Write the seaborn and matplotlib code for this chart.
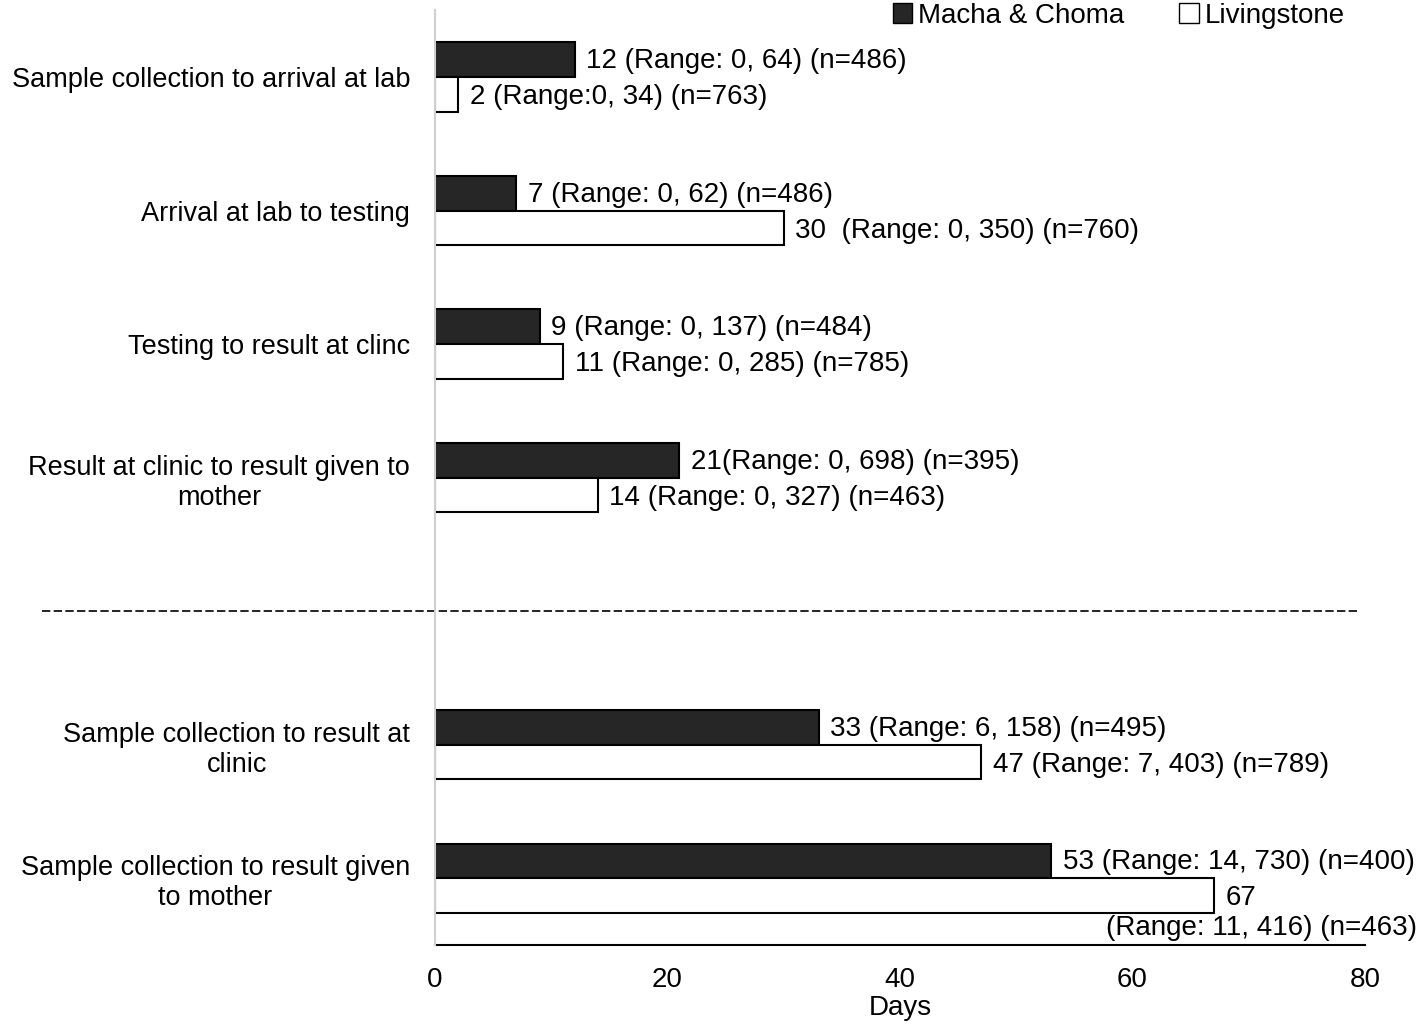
import matplotlib
matplotlib.use("Agg")
import matplotlib.pyplot as plt
import seaborn as sns
import pandas as pd
from matplotlib.patches import Patch

# datos
etapas = [
    "Sample collection to arrival at lab",
    "Arrival at lab to testing",
    "Testing to result at clinc",
    "Result at clinic to result given to\nmother",
    " ",
    "Sample collection to result at\nclinic",
    "Sample collection to result given\nto mother",
]
etapas_datos = [e for e in etapas if e.strip()]
grupos = ["Macha & Choma", "Livingstone"]

dias_macha = [12, 7, 9, 21, 33, 53]
dias_livingstone = [2, 30, 11, 14, 47, 67]

etiquetas_macha = [
    "12 (Range: 0, 64) (n=486)",
    "7 (Range: 0, 62) (n=486)",
    "9 (Range: 0, 137) (n=484)",
    "21(Range: 0, 698) (n=395)",
    "33 (Range: 6, 158) (n=495)",
    "53 (Range: 14, 730) (n=400)",
]
etiquetas_livingstone = [
    "2 (Range:0, 34) (n=763)",
    "30  (Range: 0, 350) (n=760)",
    "11 (Range: 0, 285) (n=785)",
    "14 (Range: 0, 327) (n=463)",
    "47 (Range: 7, 403) (n=789)",
    "67\n(Range: 11, 416) (n=463)",
]

df = pd.DataFrame({
    "etapa": etapas_datos * 2,
    "grupo": [grupos[0]] * 6 + [grupos[1]] * 6,
    "dias": dias_macha + dias_livingstone,
})

plt.rcParams["font.family"] = ["Liberation Sans", "DejaVu Sans"]
FS = 20

fig = plt.figure(figsize=(14.18, 10.25), dpi=100)
ax = fig.add_axes([0.3068, 0.078, 0.9626 - 0.3068, 0.990 - 0.078])

sns.barplot(
    data=df, y="etapa", x="dias", hue="grupo", order=etapas,
    hue_order=grupos, palette=["#262626", "white"], orient="h",
    width=0.52, edgecolor="black", linewidth=1.5, legend=False, ax=ax,
)

ax.set_xlim(0, 80)
ax.set_ylim(6.5, -0.5)
ax.set_xticks([0, 20, 40, 60, 80])
ax.tick_params(axis="x", length=0, labelsize=FS, pad=16)
ax.tick_params(axis="y", length=0, labelsize=19.5, pad=18)
for lbl in ax.get_yticklabels():
    lbl.set_multialignment("center")
ax.set_ylabel("")
ax.set_xlabel("Days", fontsize=FS, labelpad=1)

for s in ["top", "right"]:
    ax.spines[s].set_visible(False)
ax.spines["left"].set_color("#d0d0d0")
ax.spines["left"].set_linewidth(1.5)
ax.spines["left"].set_zorder(5)
ax.spines["bottom"].set_color("black")
ax.spines["bottom"].set_linewidth(1.5)

# etiquetas de cada barra
posiciones = [i for i, e in enumerate(etapas) if e.strip()]
for k, pos in enumerate(posiciones):
    ax.text(dias_macha[k] + 1.0, pos - 0.12, etiquetas_macha[k],
            va="center", ha="left", fontsize=FS)
    texto = etiquetas_livingstone[k]
    if "\n" in texto:
        primero, resto = texto.split("\n")
        ax.text(dias_livingstone[k] + 1.0, pos + 0.15, primero,
                va="center", ha="left", fontsize=FS)
        ax.text(84.5, pos + 0.37, resto, va="center", ha="right",
                fontsize=FS, clip_on=False)
    else:
        ax.text(dias_livingstone[k] + 1.0, pos + 0.15, texto,
                va="center", ha="left", fontsize=FS)

# linea separadora
ax.plot([-33.8, 79.6], [4, 4], color="black", linestyle=(0, (5, 2)),
        linewidth=1.2, clip_on=False)

handles = [Patch(facecolor="#262626", edgecolor="black"),
           Patch(facecolor="white", edgecolor="black")]
ax.legend(handles, grupos, loc="upper right", bbox_to_anchor=(0.99, 1.02),
          ncol=2, frameon=False, fontsize=FS, handlelength=0.7,
          handleheight=0.7, handletextpad=0.2, columnspacing=2.0,
          borderaxespad=0)

plt.savefig("out.png", dpi=100)
plt.close()
